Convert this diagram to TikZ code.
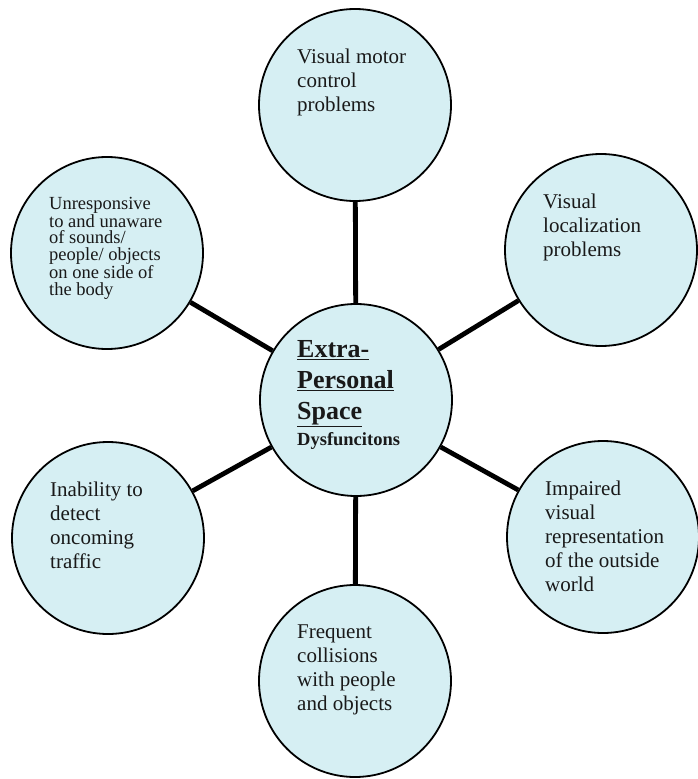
\documentclass[tikz,border=0pt]{standalone}
\usepackage{fontspec}
\setmainfont{Liberation Serif}
\usetikzlibrary{positioning,calc}
\definecolor{bubblefill}{RGB}{214,239,243}

\begin{document}
\begin{tikzpicture}[x=1pt,y=-1pt,
    bubble/.style={draw, circle, fill=bubblefill, line width=1.8pt, minimum size=192pt, inner sep=0pt},
    spoke/.style={line width=4.8pt},
    blurb/.style={anchor=north west, align=left, inner sep=0pt, text=black!90,
      font=\fontsize{21}{24}\selectfont}]
  \useasboundingbox (0,0) rectangle (697,779);
  \def \dx {-58} % text starts this far left of a circle's centre
  \def \dy {-56} % and this far above it

  % hub and the six circles round it
  \node[bubble] (hub) at (356,400) {};
  \foreach \s/\x/\y in {top/355/105, ur/601/250, lr/603/537, bot/355/681, ll/108/538, ul/107/253}
    \node[bubble] (\s) at (\x,\y) {};

  % spokes
  \foreach \s in {top,ur,lr,bot,ll,ul}
    \draw[spoke] (hub) -- (\s);

  % texts
  \node[blurb, font=\bfseries\fontsize{26}{31}\selectfont] (hub-t) at ($(hub)+(-59,-60)$)
    {\underline{Extra-}\\\underline{Personal}\\\underline{Space}\\[-5pt]
     \fontsize{18.5}{22}\selectfont Dysfuncitons};
  \node[blurb] (top-t) at ($(top)+(\dx,\dy)$) {Visual motor\\control\\problems};
  \node[blurb] (ur-t) at ($(ur)+(\dx,\dy)$) {Visual\\localization\\problems};
  \node[blurb] (lr-t) at ($(lr)+(\dx,\dy)$) {Impaired\\visual\\representation\\of the outside\\world};
  \node[blurb] (bot-t) at ($(bot)+(\dx,\dy)$) {Frequent\\collisions\\with people\\and objects};
  \node[blurb] (ll-t) at ($(ll)+(\dx,\dy)$) {Inability to\\detect\\oncoming\\traffic};
  \node[blurb, font=\fontsize{18.5}{16.7}\selectfont] (ul-t) at ($(ul)+(\dx,\dy)$)
    {Unresponsive\\to and unaware\\of sounds/\\people/ objects\\on one side of\\the body};
\end{tikzpicture}
\end{document}
